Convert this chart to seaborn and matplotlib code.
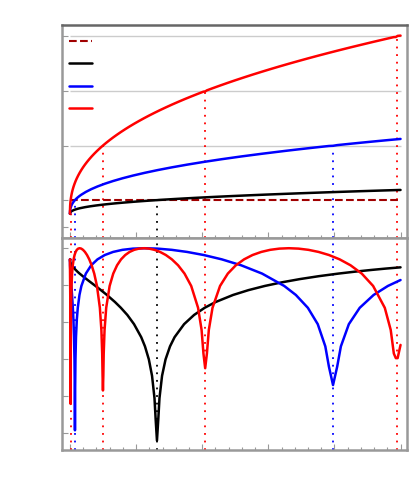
import numpy as np
import matplotlib
matplotlib.use("Agg")
import matplotlib.pyplot as plt
import seaborn as sns
from matplotlib.lines import Line2D
from matplotlib.ticker import MultipleLocator, LogLocator, NullLocator

# (phase v, x) pairs; bottom panel shows sin^2(pi v)
red_pts = [
    (-0.25, 0), (-0.2, 0.0002), (-0.1, 0.0031), (-0.05, 0.0061), (-0.025, 0.0082),
    (-0.012, 0.0093), (-0.0025, 0.01025), (0.0025, 0.01075), (0.012, 0.01175),
    (0.025, 0.0132), (0.05, 0.0162), (0.1, 0.0235), (0.15, 0.0324), (0.2, 0.0430),
    (0.25, 0.0553), (0.3, 0.0696), (0.35, 0.0857), (0.4, 0.1038), (0.45, 0.1241),
    (0.5, 0.1464), (0.55, 0.1710), (0.6, 0.1977), (0.65, 0.2268), (0.7, 0.2583),
    (0.75, 0.2921), (0.8, 0.3283), (0.85, 0.3671), (0.9, 0.4085), (0.95, 0.4524),
    (0.975, 0.4754), (0.988, 0.4876), (0.994, 0.4933), (0.9962, 0.4990),
    (1.006, 0.5048), (1.012, 0.5106), (1.025, 0.5233),
    (1.05, 0.5482), (1.1, 0.6002), (1.15, 0.6548), (1.2, 0.7126), (1.25, 0.7728),
    (1.3, 0.8361), (1.35, 0.9021), (1.4, 0.9714), (1.45, 1.0437), (1.5, 1.1188),
    (1.55, 1.1970), (1.6, 1.2787), (1.65, 1.3629), (1.7, 1.4508), (1.75, 1.5414),
    (1.8, 1.6356), (1.85, 1.7329), (1.9, 1.8339), (1.95, 1.9378), (1.975, 1.9911),
    (1.988, 2.0191), (1.9924, 2.0452), (2.012, 2.0715),
    (2.025, 2.1002), (2.05, 2.1560), (2.1, 2.2702), (2.15, 2.3877), (2.2, 2.5088),
    (2.25, 2.6337), (2.3, 2.7613), (2.35, 2.8936), (2.4, 3.0286), (2.45, 3.1676),
    (2.5, 3.3104), (2.55, 3.4568), (2.6, 3.6066), (2.65, 3.7603), (2.7, 3.9182),
    (2.75, 4.0792), (2.8, 4.2441), (2.85, 4.4136), (2.9, 4.5853), (2.95, 4.7619),
    (2.975, 4.8517), (2.988, 4.8987), (2.9896, 4.9290), (3.0104, 4.9560),
    (3.0157, 5.0),
]

blue_pts = [
    (-0.25, 0), (-0.2, 0.0014), (-0.15, 0.0079), (-0.1, 0.0215), (-0.075, 0.0314),
    (-0.05, 0.0436), (-0.035, 0.0521), (-0.02, 0.0613), (-0.01, 0.0684),
    (-0.004, 0.0727), (0.0011, 0.0756), (0.004, 0.0786),
    (0.01, 0.0833), (0.02, 0.0913), (0.035, 0.1043), (0.05, 0.1184),
    (0.075, 0.1438), (0.1, 0.1730), (0.15, 0.2404), (0.2, 0.3213), (0.25, 0.4165),
    (0.3, 0.5267), (0.35, 0.6527), (0.4, 0.7949), (0.45, 0.9541), (0.5, 1.1309),
    (0.55, 1.3255), (0.6, 1.5390), (0.65, 1.7716), (0.7, 2.0240), (0.75, 2.2967),
    (0.8, 2.5896), (0.85, 2.9062), (0.9, 3.2409), (0.925, 3.4168), (0.95, 3.5985),
    (0.97, 3.7479), (0.985, 3.8624), (0.992, 3.9166), (0.9955, 3.979),
    (1.008, 4.0420), (1.015, 4.0977), (1.03, 4.2183),
    (1.05, 4.3825), (1.075, 4.5928), (1.1, 4.8089), (1.1212, 5.0),
]

black_pts = [
    (-0.25, 0), (-0.24, 0.0006), (-0.23, 0.0031), (-0.22, 0.0082), (-0.2, 0.0277),
    (-0.18, 0.0621), (-0.16, 0.1135), (-0.15, 0.1461), (-0.13, 0.2263),
    (-0.115, 0.3001), (-0.1, 0.3864), (-0.09, 0.4511), (-0.075, 0.5592),
    (-0.06, 0.6811), (-0.05, 0.7704), (-0.04, 0.8675), (-0.03, 0.9691),
    (-0.02, 1.0777), (-0.015, 1.1346), (-0.01, 1.1933), (-0.006, 1.2415),
    (-0.003, 1.2785), (-0.0015, 1.2971), (-0.0008, 1.316),
    (0.0015, 1.3350), (0.003, 1.3542), (0.006, 1.3930), (0.01, 1.4458),
    (0.015, 1.5133), (0.02, 1.5826), (0.03, 1.7265), (0.04, 1.8776), (0.05, 2.0367),
    (0.06, 2.2031), (0.075, 2.4670), (0.0875, 2.7007), (0.1, 2.9474),
    (0.1125, 3.2066), (0.125, 3.4780), (0.1375, 3.7626), (0.15, 4.0601),
    (0.16, 4.3077), (0.17, 4.5640), (0.178, 4.7757), (0.186, 5.0),
]

# where each curve crosses an integer level
red_cross_x = [0.0105, 0.499, 2.045, 4.942]
red_cross_v = [0, 1, 2, 3]
blue_cross_x = [0.0756, 3.979]
blue_cross_v = [0, 1]
black_cross_x = [1.316]
black_cross_v = [0]

ref_levels = [1, 2, 3]

series = [
    (black_pts, black_cross_x, black_cross_v, "black"),
    (blue_pts, blue_cross_x, blue_cross_v, "#0000ff"),
    (red_pts, red_cross_x, red_cross_v, "#ff0000"),
]

sns.set_style("white")
plt.rcParams["font.family"] = ["DejaVu Sans"]

fig, (ax1, ax2) = plt.subplots(2, 1, sharex=True, figsize=(4.16, 5.03), dpi=100)
fig.subplots_adjust(left=0.1502, right=0.9784, top=0.9503, bottom=0.1044, hspace=0)

dot = (0, (1, 3.2))
y_low = -0.69
lw = 1.8

ax1.hlines(ref_levels, 0, 5, colors="#cccccc", linewidth=1, zorder=1)
ax1.hlines(0, 0, 5, colors="#a00000", linestyles="--", linewidth=1.5, zorder=2)

for pts, cx, cv, col in series:
    ax1.vlines(cx, y_low, cv, colors=col, linestyles=dot, linewidth=1.3, zorder=1)
    for x0 in cx:
        ax2.axvline(x0, color=col, linestyle=dot, linewidth=1.3, zorder=1)

ax2.set_yscale("log")
for pts, cx, cv, col in series:
    vs = np.array([p[0] for p in pts])
    xs = np.array([p[1] for p in pts])
    sns.lineplot(x=xs, y=vs, ax=ax1, color=col, linewidth=lw,
                 estimator=None, sort=False, zorder=3)
    sns.lineplot(x=xs, y=np.sin(np.pi * vs) ** 2, ax=ax2, color=col, linewidth=lw,
                 estimator=None, sort=False, zorder=3)

ax1.set_xlim(-0.113, 5.098)
ax1.set_ylim(y_low, 3.21)
ax2.set_ylim(3.4e-6, 1.92)

ax1.set_yticks([-0.5, 0, 1, 2, 3])
ax2.yaxis.set_major_locator(LogLocator(base=10, numticks=12))
ax2.yaxis.set_minor_locator(NullLocator())
ax2.xaxis.set_major_locator(MultipleLocator(1))
ax2.xaxis.set_minor_locator(MultipleLocator(0.2))

for ax in (ax1, ax2):
    ax.set_xlabel("")
    ax.set_ylabel("")
    ax.tick_params(which="both", direction="in", colors="#999999",
                   labelbottom=False, labelleft=False, bottom=True, left=True)
    ax.tick_params(which="major", length=4, width=0.8)
    ax.tick_params(which="minor", length=2.5, width=0.8)
    for s in ax.spines.values():
        s.set_color("#999999")
        s.set_linewidth(1.8)
ax1.spines["top"].set_color("#666666")

handles = [
    Line2D([], [], color="#a00000", linestyle="--", linewidth=1.5),
    Line2D([], [], color="black", linewidth=lw),
    Line2D([], [], color="#0000ff", linewidth=lw),
    Line2D([], [], color="#ff0000", linewidth=lw),
]
ax1.legend(handles, [""] * 4, loc="upper left", bbox_to_anchor=(0.019, 0.953),
           frameon=False, borderaxespad=0, borderpad=0, handlelength=1.66,
           labelspacing=0.6, handletextpad=0.5)

fig.savefig("out.png", dpi=100)
